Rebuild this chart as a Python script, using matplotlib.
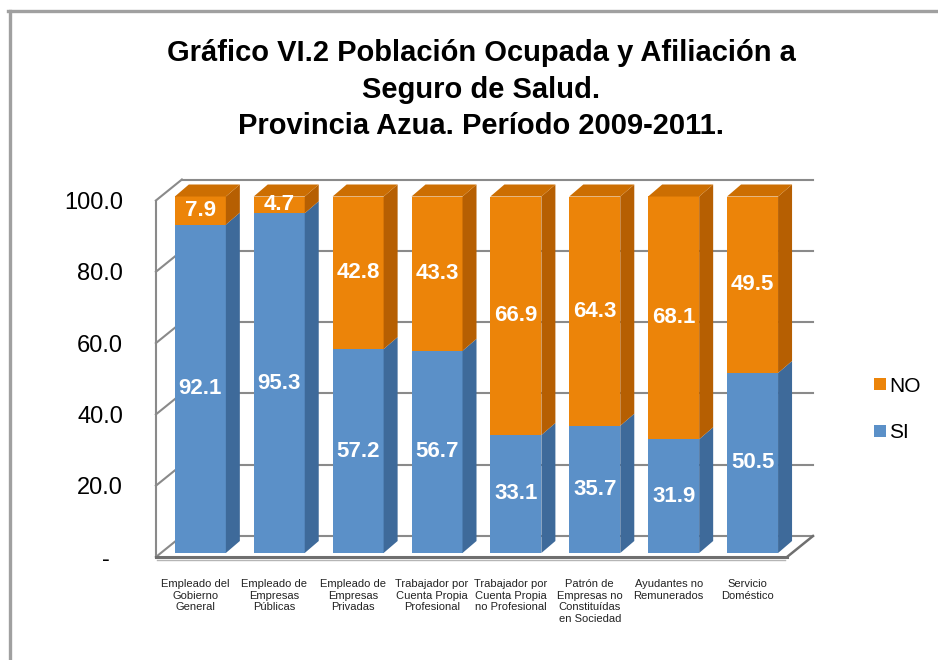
import matplotlib
matplotlib.use("Agg")
import matplotlib.pyplot as plt
from matplotlib.patches import Polygon, Rectangle
from matplotlib.lines import Line2D
import numpy as np

plt.rcParams['font.family'] = ['Liberation Sans', 'DejaVu Sans']

categories = ["Empleado del\nGobierno\nGeneral", "Empleado de\nEmpresas\nPúblicas",
              "Empleado de\nEmpresas\nPrivadas", "Trabajador por\nCuenta Propia\nProfesional",
              "Trabajador por\nCuenta Propia\nno Profesional", "Patrón de\nEmpresas no\nConstituídas\nen Sociedad",
              "Ayudantes no\nRemunerados", "Servicio\nDoméstico"]
si_values = [92.1, 95.3, 57.2, 56.7, 33.1, 35.7, 31.9, 50.5]
no_values = [7.9, 4.7, 42.8, 43.3, 66.9, 64.3, 68.1, 49.5]
y_ticks = [0, 20, 40, 60, 80, 100]
y_tick_labels = ["-  ", "20.0", "40.0", "60.0", "80.0", "100.0"]
title_lines = ["Gráfico VI.2 Población Ocupada y Afiliación a",
               "Seguro de Salud.",
               "Provincia Azua. Período 2009-2011."]
series_names = ["NO", "SI"]

W, H = 938, 660
fig = plt.figure(figsize=(W / 100, H / 100), dpi=100)
fig.patch.set_facecolor('white')

def fx(px):
    return px / W

def fy(py):
    return 1 - py / H

# front plane geometry (pixels)
FL, FR, F0, F100 = 155.9, 787.0, 557.0, 200.5
ax = fig.add_axes([fx(FL), fy(F0), (FR - FL) / W, (F0 - F100) / H])
ax.set_xlim(-0.5, 7.5)
ax.set_ylim(0, 100)
for s in ax.spines.values():
    s.set_visible(False)
ax.set_facecolor('none')

PXX = (FR - FL) / 8.0
PXY = (F0 - F100) / 100.0

WDX, WDY = 26 / PXX, 21 / PXY       # back wall offset
BX0, BY0 = 5 / PXX, 4 / PXY         # bar front offset
BDX, BDY = 14 / PXX, 12 / PXY       # bar depth
BW = 51 / PXX

grid_c = '#8a8a8a'
glw = 1.5

# back wall gridlines and left wall diagonals
for v in y_ticks:
    ax.add_line(Line2D([-0.5 + WDX, 7.5 + WDX], [v + WDY, v + WDY], color=grid_c, lw=glw,
                       clip_on=False, zorder=1))
    ax.add_line(Line2D([-0.5, -0.5 + WDX], [v, v + WDY], color=grid_c, lw=glw,
                       clip_on=False, zorder=1))
# left wall front vertical
ax.add_line(Line2D([-0.5, -0.5], [0, 100], color=grid_c, lw=glw, clip_on=False, zorder=1))
# floor slab: front edge and right edge
ax.add_line(Line2D([-0.5, 7.5], [0, 0], color='#6f6f6f', lw=2.2, clip_on=False, zorder=5))
ax.add_line(Line2D([7.5, 7.5 + WDX], [0, WDY], color='#6f6f6f', lw=1.8, clip_on=False, zorder=5))
ax.add_line(Line2D([-0.5 + 0.02, 7.5 - 0.02], [-0.9, -0.9], color='#b5b5b5', lw=1.0, clip_on=False, zorder=5))

blue_f, blue_s = '#5b90c8', '#3e6a9a'
orng_f, orng_s, orng_t = '#ec8409', '#b65f02', '#cc6e02'

x = np.arange(len(categories))
si = np.array(si_values)
no = np.array(no_values)

ax.bar(x + BX0, si, width=BW, bottom=BY0, color=blue_f, zorder=3, clip_on=False)
ax.bar(x + BX0, no, width=BW, bottom=BY0 + si, color=orng_f, zorder=3, clip_on=False)

for i in range(len(x)):
    xl = x[i] + BX0 - BW / 2
    xr = x[i] + BX0 + BW / 2
    segs = [(0, si[i], blue_s), (si[i], si[i] + no[i], orng_s)]
    for b, t, c in segs:
        ax.add_patch(Polygon([(xr, BY0 + b), (xr + BDX, BY0 + b + BDY),
                              (xr + BDX, BY0 + t + BDY), (xr, BY0 + t)],
                             closed=True, facecolor=c, edgecolor='none', zorder=3, clip_on=False))
    top = BY0 + si[i] + no[i]
    ax.add_patch(Polygon([(xl, top), (xr, top), (xr + BDX, top + BDY), (xl + BDX, top + BDY)],
                         closed=True, facecolor=orng_t, edgecolor='none', zorder=3, clip_on=False))
    ax.text(x[i] + BX0, BY0 + si[i] / 2, f"{si[i]:.1f}", ha='center', va='center',
            color='white', fontsize=16, fontweight='bold', zorder=6)
    ax.text(x[i] + BX0, BY0 + si[i] + no[i] / 2, f"{no[i]:.1f}", ha='center', va='center',
            color='white', fontsize=16, fontweight='bold', zorder=6)
    ax.text(x[i], -(579 - F0) / PXY, categories[i], ha='center', va='top', fontsize=8,
            color='#222222', linespacing=1.2)

ax.set_xticks([])
ax.set_yticks(y_ticks)
ax.set_yticklabels(y_tick_labels)
ax.tick_params(axis='y', length=0, pad=(FL - 123) * 0.72, labelsize=17)

# title
for ln, py in zip(title_lines, [53, 90, 126]):
    fig.text(fx(481), fy(py), ln, ha='center', va='center', fontsize=21, fontweight='bold',
             color='black')

# legend
for name, c, py in zip(series_names, [orng_f, blue_f], [384, 431]):
    fig.patches.append(Rectangle((fx(874), fy(py + 6)), 12 / W, 12 / H, transform=fig.transFigure,
                                 facecolor=c, edgecolor='none'))
    fig.text(fx(889), fy(py + 2), name, ha='left', va='center', fontsize=15, color='black')

# outer frame
fig.add_artist(Line2D([fx(9.5), fx(9.5)], [fy(11), fy(665)], color='#a0a0a0', lw=2.4,
                      transform=fig.transFigure))
fig.add_artist(Line2D([fx(8.3), fx(945)], [fy(11), fy(11)], color='#a0a0a0', lw=2.4,
                      transform=fig.transFigure))

fig.savefig('out.png', dpi=100)
